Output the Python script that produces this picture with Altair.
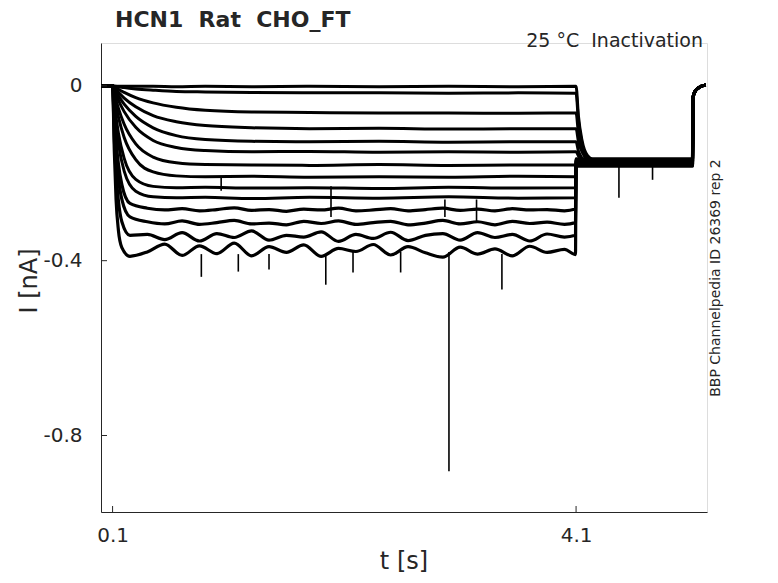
import altair as alt
import pandas as pd

# ---------------- data (nA vs s) ----------------
T_PRE = [0.000, 0.095]
V_PRE = [0.000, 0.000]

# activation phase for the ten shallower traces
T_ON = [0.100, 0.120, 0.150, 0.200, 0.300, 0.450, 0.650, 0.900, 1.300, 1.800, 2.400, 3.000, 3.600, 4.095]
ON_1 = [0.000, -0.001, -0.001, -0.001, -0.001, -0.001, -0.002, -0.001, -0.002, -0.001, -0.002, -0.001, -0.002, -0.001]
ON_2 = [0.000, -0.001, -0.002, -0.004, -0.007, -0.010, -0.013, -0.014, -0.015, -0.016, -0.016, -0.017, -0.016, -0.017]
ON_3 = [0.000, -0.003, -0.008, -0.015, -0.027, -0.039, -0.049, -0.056, -0.060, -0.061, -0.062, -0.062, -0.063, -0.062]
ON_4 = [0.000, -0.006, -0.015, -0.028, -0.048, -0.068, -0.082, -0.091, -0.096, -0.098, -0.097, -0.099, -0.098, -0.098]
ON_5 = [0.000, -0.010, -0.023, -0.042, -0.070, -0.096, -0.114, -0.123, -0.127, -0.128, -0.127, -0.129, -0.128, -0.128]
ON_6 = [0.000, -0.014, -0.033, -0.059, -0.095, -0.125, -0.141, -0.148, -0.151, -0.150, -0.152, -0.151, -0.152, -0.151]
ON_7 = [0.000, -0.023, -0.051, -0.088, -0.133, -0.163, -0.176, -0.180, -0.181, -0.182, -0.180, -0.182, -0.181, -0.181]
ON_8 = [0.000, -0.032, -0.071, -0.118, -0.169, -0.197, -0.206, -0.208, -0.207, -0.209, -0.208, -0.209, -0.207, -0.208]
ON_9 = [0.000, -0.051, -0.108, -0.166, -0.214, -0.230, -0.233, -0.232, -0.234, -0.233, -0.235, -0.232, -0.234, -0.233]
ON_10 = [0.000, -0.064, -0.131, -0.195, -0.241, -0.254, -0.256, -0.255, -0.258, -0.255, -0.257, -0.254, -0.257, -0.256]

# activation phase for the four deepest (noisier) traces
T_DEEP = [0.100, 0.115, 0.130, 0.150, 0.180, 0.250, 0.400, 0.550, 0.700, 0.850, 1.000, 1.150,
          1.300, 1.450, 1.600, 1.750, 1.900, 2.050, 2.200, 2.350, 2.500, 2.650, 2.800, 2.950,
          3.100, 3.250, 3.400, 3.550, 3.700, 3.850, 4.000, 4.095]
DEEP_11 = [0.000, -0.074, -0.127, -0.178, -0.226, -0.269, -0.280, -0.284, -0.281, -0.286, -0.283, -0.279,
           -0.285, -0.283, -0.287, -0.282, -0.284, -0.280, -0.286, -0.284, -0.281, -0.286, -0.283, -0.280,
           -0.285, -0.282, -0.286, -0.281, -0.284, -0.283, -0.286, -0.282]
DEEP_12 = [0.000, -0.088, -0.153, -0.210, -0.260, -0.300, -0.311, -0.316, -0.309, -0.317, -0.313, -0.308,
           -0.316, -0.314, -0.318, -0.310, -0.315, -0.309, -0.317, -0.313, -0.310, -0.318, -0.314, -0.308,
           -0.316, -0.311, -0.318, -0.310, -0.315, -0.312, -0.317, -0.313]
DEEP_13 = [0.000, -0.121, -0.200, -0.262, -0.311, -0.342, -0.340, -0.352, -0.336, -0.355, -0.338, -0.347,
           -0.332, -0.353, -0.342, -0.346, -0.334, -0.356, -0.340, -0.349, -0.335, -0.354, -0.342, -0.338,
           -0.353, -0.336, -0.347, -0.340, -0.355, -0.339, -0.346, -0.342]
DEEP_14 = [0.000, -0.150, -0.260, -0.330, -0.370, -0.390, -0.380, -0.362, -0.388, -0.366, -0.384, -0.360,
           -0.389, -0.368, -0.381, -0.364, -0.390, -0.372, -0.379, -0.363, -0.387, -0.368, -0.382, -0.392,
           -0.369, -0.385, -0.373, -0.389, -0.367, -0.381, -0.374, -0.386]

# tail after the pulse ends (t = 4.1 s) and common level at the test step
T_OFF = [4.100, 4.120, 4.150, 4.200, 4.280]
OFF_1 = [-0.001, -0.068, -0.123, -0.160, -0.172]
OFF_2 = [-0.017, -0.079, -0.131, -0.164, -0.175]
OFF_3 = [-0.062, -0.107, -0.145, -0.170, -0.178]
OFF_4 = [-0.098, -0.127, -0.150, -0.165, -0.170]
OFF_5 = [-0.128, -0.149, -0.165, -0.177, -0.181]
OFF_6 = [-0.151, -0.160, -0.167, -0.172, -0.174]
OFF_7 = [-0.177, -0.177, -0.177, -0.177, -0.177]
OFF_8 = [-0.169, -0.169, -0.169, -0.169, -0.169]
OFF_9 = [-0.184, -0.184, -0.184, -0.184, -0.184]
OFF_10 = [-0.176, -0.176, -0.176, -0.176, -0.176]
OFF_11 = [-0.173, -0.173, -0.173, -0.173, -0.173]
OFF_12 = [-0.179, -0.179, -0.179, -0.179, -0.179]
OFF_13 = [-0.167, -0.167, -0.167, -0.167, -0.167]
OFF_14 = [-0.181, -0.181, -0.181, -0.181, -0.181]

T_BAND_END = 5.105
T_END = [5.110, 5.125, 5.150, 5.180, 5.220]
V_END = [-0.026, -0.014, -0.006, -0.001, 0.002]

# isolated spikes: time, level where they start, level they reach
SPIKE_T = [0.866, 1.185, 1.450, 1.940, 2.175, 2.586, 3.003, 3.460, 1.037, 1.985, 2.968, 3.241, 4.470, 4.760]
SPIKE_FROM = [-0.385, -0.385, -0.385, -0.385, -0.380, -0.380, -0.380, -0.385, -0.208, -0.230, -0.260, -0.260, -0.178, -0.178]
SPIKE_TO = [-0.437, -0.425, -0.420, -0.455, -0.427, -0.427, -0.882, -0.466, -0.240, -0.300, -0.300, -0.310, -0.256, -0.215]

X_TICKS = [0.1, 4.1]
Y_TICKS = [0.0, -0.4, -0.8]

# ---------------- build tables ----------------
pulse = [(T_ON, ON_1), (T_ON, ON_2), (T_ON, ON_3), (T_ON, ON_4), (T_ON, ON_5),
         (T_ON, ON_6), (T_ON, ON_7), (T_ON, ON_8), (T_ON, ON_9), (T_ON, ON_10),
         (T_DEEP, DEEP_11), (T_DEEP, DEEP_12), (T_DEEP, DEEP_13), (T_DEEP, DEEP_14)]
tails = [OFF_1, OFF_2, OFF_3, OFF_4, OFF_5, OFF_6, OFF_7,
         OFF_8, OFF_9, OFF_10, OFF_11, OFF_12, OFF_13, OFF_14]

rows = []
for k, ((tp, vp), off) in enumerate(zip(pulse, tails), start=1):
    ts = list(T_PRE) + list(tp) + list(T_OFF) + [T_BAND_END] + list(T_END)
    vs = list(V_PRE) + list(vp) + list(off) + [off[-1]] + list(V_END)
    w = 3.0 if k <= 10 else 3.2
    for i, (t, v) in enumerate(zip(ts, vs)):
        rows.append({"trace": k, "t": t, "I": v, "i": i, "w": w})
df = pd.DataFrame(rows)
spikes = pd.DataFrame({"t": SPIKE_T, "I": SPIKE_FROM, "b": SPIKE_TO})
xt = pd.DataFrame({"t": X_TICKS})
yt = pd.DataFrame({"I": Y_TICKS})

INK = "#262626"
FONT = "DejaVu Sans"
XS = alt.Scale(domain=[0.0, 5.23], nice=False, zero=False)
YS = alt.Scale(domain=[-0.975, 0.098], nice=False, zero=False)
XAX = alt.Axis(values=X_TICKS, labelExpr="toString(datum.value)", ticks=False,
               labelPadding=13, labelFontSize=20, grid=False, domainColor=INK,
               labelColor=INK, labelFont=FONT)
YAX = alt.Axis(values=Y_TICKS,
               labelExpr="datum.value == 0 ? '0\u00a0\u00a0' : toString(datum.value)",
               ticks=False, labelPadding=19, labelFontSize=20, grid=False, domainColor=INK,
               labelColor=INK, labelFont=FONT)


def X(field):
    return alt.X(field, type="quantitative", scale=XS, title=None, axis=XAX)


def Y(field):
    return alt.Y(field, type="quantitative", scale=YS, title=None, axis=YAX)


traces = alt.Chart(df).mark_line(color="black", strokeJoin="round", interpolate="monotone").encode(
    x=X("t"), y=Y("I"),
    detail="trace:N",
    order="i:Q",
    strokeWidth=alt.StrokeWidth("w:Q", scale=None),
)

spike_layer = alt.Chart(spikes).mark_rule(color="black", strokeWidth=1.6).encode(
    x=X("t"), y=Y("I"), y2="b:Q",
)

xtick_layer = alt.Chart(xt).mark_rule(color=INK, strokeWidth=1).encode(
    x=X("t"), y=alt.value(469), y2=alt.value(463),
)
ytick_layer = alt.Chart(yt).mark_rule(color=INK, strokeWidth=1).encode(
    y=Y("I"), x=alt.value(0), x2=alt.value(6),
)

one = pd.DataFrame({"k": [0]})


def label(text, x, y, size, bold=False, align="center", baseline="alphabetic", angle=0):
    kw = dict(text=text, fontSize=size, font=FONT, color=INK, align=align, baseline=baseline,
              fontWeight="bold" if bold else "normal")
    if angle:
        kw["angle"] = angle
    return alt.Chart(one).mark_text(**kw).encode(x=alt.value(x), y=alt.value(y))


title_t = label("HCN1\u00a0\u00a0Rat\u00a0\u00a0CHO_FT", 14, -16, 22, bold=True, align="left")
cond_t = label("25 °C\u00a0\u00a0Inactivation", 602, 4, 19, align="right")
side_t = label("BBP Channelpedia ID 26369 rep 2", 615, 235, 14, baseline="middle", angle=270)
xlab_t = label("t [s]", 303, 526, 24)
ylab_t = label("I [nA]", -64, 238, 24, angle=270)

chart = alt.layer(
    traces, spike_layer, xtick_layer, ytick_layer, title_t, cond_t, side_t, xlab_t, ylab_t
).properties(
    width=606, height=469,
    autosize=alt.AutoSizeParams(type="none"),
    padding={"left": 93, "top": 35, "right": 60, "bottom": 63},
).configure_view(strokeWidth=0, stroke="transparent").configure(background="white")

chart.save("out.html", embed_options={"renderer": "svg", "actions": False})
